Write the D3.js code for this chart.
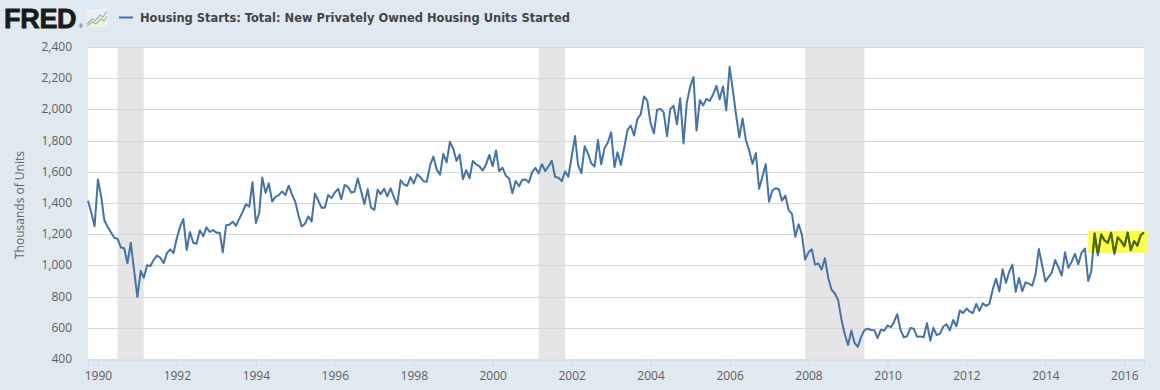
<!DOCTYPE html>
<html>
<head>
<meta charset="utf-8">
<script src="https://cdn.jsdelivr.net/npm/d3@7"></script>
<style>
  body { margin: 0; background: #e1e9f0; }
  svg { display: block; }
</style>
</head>
<body>
<div id="chart"></div>
<script>
// FRED housing starts chart (HOUST), monthly, thousands of units SAAR
var W = 1160, H = 390;
var margin = { top: 47, right: 16, bottom: 31, left: 88 };

var titleText = "Housing Starts: Total: New Privately Owned Housing Units Started";
var yLabel = "Thousands of Units";
var firstMonth = "1989-10";

// monthly values, Oct 1989 -> Jul 2016
var houst = [
  1414, 1338, 1251,
  1551, 1437, 1289, 1248, 1212, 1177, 1171, 1115, 1110, 1014, 1145, 969,
  798, 965, 921, 1001, 996, 1036, 1063, 1049, 1015, 1079, 1103, 1079,
  1176, 1250, 1297, 1099, 1214, 1145, 1139, 1226, 1186, 1244, 1214, 1227,
  1210, 1210, 1083, 1258, 1260, 1280, 1254, 1300, 1343, 1392, 1376, 1533,
  1272, 1337, 1564, 1465, 1526, 1409, 1439, 1450, 1474, 1450, 1511, 1455,
  1407, 1316, 1249, 1267, 1314, 1281, 1461, 1416, 1369, 1369, 1452, 1431,
  1467, 1491, 1424, 1516, 1504, 1467, 1472, 1557, 1475, 1392, 1489, 1370,
  1355, 1486, 1457, 1492, 1442, 1494, 1437, 1390, 1546, 1520, 1510, 1566,
  1525, 1584, 1567, 1540, 1536, 1641, 1698, 1614, 1582, 1715, 1660, 1792,
  1748, 1670, 1710, 1553, 1611, 1559, 1669, 1648, 1635, 1608, 1648, 1708,
  1636, 1737, 1604, 1626, 1575, 1559, 1463, 1541, 1507, 1549, 1551, 1532,
  1600, 1625, 1590, 1649, 1605, 1636, 1670, 1567, 1562, 1540, 1602, 1568,
  1698, 1829, 1642, 1592, 1764, 1717, 1655, 1633, 1804, 1648, 1753, 1788,
  1853, 1629, 1726, 1643, 1751, 1867, 1897, 1833, 1939, 1967, 2083, 2057,
  1911, 1846, 1998, 2003, 1981, 1828, 2002, 2024, 1905, 2072, 1782, 2042,
  2144, 2207, 1864, 2061, 2025, 2068, 2054, 2095, 2151, 2065, 2147, 1994,
  2273, 2119, 1969, 1821, 1942, 1802, 1737, 1650, 1720, 1491, 1570, 1649,
  1409, 1480, 1495, 1490, 1415, 1448, 1354, 1330, 1183, 1264, 1197, 1037,
  1084, 1103, 1005, 1013, 973, 1046, 923, 844, 820, 777, 652, 560,
  490, 582, 505, 478, 540, 585, 594, 586, 585, 534, 588, 581,
  614, 604, 636, 687, 588, 539, 546, 599, 594, 543, 545, 539,
  630, 517, 600, 554, 561, 608, 623, 585, 650, 610, 711, 694,
  723, 704, 695, 753, 708, 757, 740, 754, 847, 915, 833, 976,
  888, 962, 1005, 831, 919, 835, 891, 883, 870, 941, 1105, 1003,
  897, 928, 954, 1034, 988, 935, 1084, 984, 1024, 1074, 1007, 1080,
  1108, 900, 963, 1205, 1064, 1198, 1161, 1144, 1209, 1072, 1180, 1157,
  1123, 1210, 1097, 1155, 1127, 1195, 1211
];

// NBER recessions [start, end]
var recessions = [["1990-07", "1991-03"], ["2001-03", "2001-11"], ["2007-12", "2009-06"]];
var yTicks = [400, 600, 800, 1000, 1200, 1400, 1600, 1800, 2000, 2200, 2400];
var xTickYears = [1990, 1992, 1994, 1996, 1998, 2000, 2002, 2004, 2006, 2008, 2010, 2012, 2014, 2016];
// highlighted box: months and value band
var hlMonths = ["2015-02", "2016-06"];
var hlValues = [1080, 1220];

var parseM = d3.timeParse("%Y-%m");
var start = parseM(firstMonth);
var data = houst.map(function(v, i) {
  return { date: d3.timeMonth.offset(start, i), value: v };
});

var svg = d3.select("#chart").append("svg")
    .attr("width", W).attr("height", H);

var x = d3.scaleTime()
    .domain(d3.extent(data, d => d.date))
    .range([margin.left, W - margin.right]);
var y = d3.scaleLinear()
    .domain([400, 2400])
    .range([H - margin.bottom, margin.top]);

// plot background
svg.append("rect")
    .attr("x", margin.left).attr("y", margin.top)
    .attr("width", x.range()[1] - margin.left)
    .attr("height", y(400) - y(2400))
    .attr("fill", "#fff");

// recession bars
svg.append("g").selectAll("rect")
  .data(recessions)
  .enter().append("rect")
    .attr("x", d => x(parseM(d[0])))
    .attr("y", margin.top)
    .attr("width", d => x(parseM(d[1])) - x(parseM(d[0])))
    .attr("height", y(400) - y(2400))
    .attr("fill", "#e5e5e5");

// grid
svg.append("g").selectAll("line")
  .data(yTicks.slice(1))
  .enter().append("line")
    .attr("x1", margin.left).attr("x2", x.range()[1])
    .attr("y1", d => Math.round(y(d)) + 0.5).attr("y2", d => Math.round(y(d)) + 0.5)
    .attr("stroke", "#d8d8d8");

// y labels
svg.append("g").selectAll("text")
  .data(yTicks)
  .enter().append("text")
    .attr("x", 72).attr("y", d => y(d) + 4)
    .attr("text-anchor", "end")
    .attr("font-family", "Open Sans").attr("font-size", 12)
    .attr("fill", "#606060")
    .text(d => d3.format(",")(d));

svg.append("text")
    .attr("transform", "translate(24," + (y(1400) + 2) + ") rotate(-90)")
    .attr("text-anchor", "middle")
    .attr("font-family", "Open Sans").attr("font-size", 12)
    .attr("fill", "#666")
    .text(yLabel);

// x axis
var xAxis = svg.append("g")
    .attr("transform", "translate(0," + (y(400) + 0.5) + ")")
    .call(d3.axisBottom(x)
      .tickValues(xTickYears.map(yr => new Date(yr, 0, 1)))
      .tickFormat(d3.timeFormat("%Y"))
      .tickSize(6).tickPadding(6));
xAxis.select(".domain").attr("stroke", "#ccd6eb");
xAxis.selectAll(".tick line").attr("stroke", "#ccd6eb");
xAxis.selectAll(".tick text")
    .attr("font-family", "Open Sans").attr("font-size", 12)
    .attr("fill", "#606060");

// highlight box
var hx0 = x(parseM(hlMonths[0])), hx1 = x(parseM(hlMonths[1])) + 6;
var hy0 = y(hlValues[1]), hy1 = y(hlValues[0]);
svg.append("rect")
    .attr("x", hx0).attr("y", hy0)
    .attr("width", hx1 - hx0).attr("height", hy1 - hy0)
    .attr("fill", "#ffff45");

var line = d3.line()
    .x(d => x(d.date))
    .y(d => y(d.value));

svg.append("path")
    .datum(data)
    .attr("d", line)
    .attr("fill", "none")
    .attr("stroke", "#4572a7")
    .attr("stroke-width", 2)
    .attr("stroke-linejoin", "round");

svg.append("clipPath").attr("id", "hlclip")
  .append("rect")
    .attr("x", hx0).attr("y", hy0)
    .attr("width", hx1 - hx0).attr("height", hy1 - hy0);

svg.append("path")
    .datum(data)
    .attr("d", line)
    .attr("clip-path", "url(#hlclip)")
    .attr("fill", "none")
    .attr("stroke", "#4a6a00")
    .attr("stroke-width", 2)
    .attr("stroke-linejoin", "round");

// header: logo + legend
svg.append("text")
    .attr("x", 4).attr("y", 28)
    .attr("font-family", "Liberation Sans").attr("font-weight", "bold")
    .attr("font-size", 27).attr("letter-spacing", -0.3)
    .attr("stroke", "#1a1a1a").attr("stroke-width", 0.8)
    .attr("fill", "#1a1a1a")
    .text("FRED");
svg.append("text")
    .attr("x", 79).attr("y", 28)
    .attr("font-family", "Liberation Sans").attr("font-size", 5)
    .attr("fill", "#1a1a1a")
    .text("®");

var icon = svg.append("g").attr("transform", "translate(86,9)");
icon.append("rect").attr("width", 22).attr("height", 18).attr("rx", 2)
    .attr("fill", "#eef0f0");
icon.append("path").attr("d", "M1,15 L6,10 L9,12 L14,6 L17,8 L21,2")
    .attr("fill", "none").attr("stroke", "#8fb0d8").attr("stroke-width", 1.2);
icon.append("path").attr("d", "M1,17 L6,13 L10,15 L15,10 L18,12 L21,7")
    .attr("fill", "none").attr("stroke", "#9cc46a").attr("stroke-width", 1.2);

svg.append("line")
    .attr("x1", 119).attr("x2", 133)
    .attr("y1", 17.5).attr("y2", 17.5)
    .attr("stroke", "#4572a7").attr("stroke-width", 2);

svg.append("text")
    .attr("x", 140).attr("y", 22)
    .attr("font-family", "DejaVu Sans Condensed").attr("font-weight", "bold")
    .attr("font-size", 12.75)
    .attr("fill", "#444")
    .text(titleText);
</script>
</body>
</html>
